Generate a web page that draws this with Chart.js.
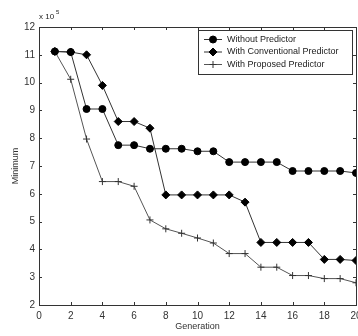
<!DOCTYPE html>
<html><head><meta charset="utf-8">
<script src="https://cdn.jsdelivr.net/npm/chart.js@4"></script>
<style>html,body{margin:0;padding:0;background:#fff;}#wrap{width:358px;height:336px;}</style>
</head><body><div id="wrap"><canvas id="c" width="358" height="336"></canvas></div>
<script>
const generations = [1,2,3,4,5,6,7,8,9,10,11,12,13,14,15,16,17,18,19,20];
const withoutPredictor = [11.12,11.1,9.05,9.05,7.75,7.75,7.62,7.62,7.62,7.53,7.53,7.14,7.14,7.14,7.14,6.82,6.82,6.82,6.82,6.75];
const withConventional = [11.12,11.1,11.0,9.9,8.6,8.6,8.36,5.96,5.96,5.96,5.96,5.96,5.7,4.25,4.25,4.25,4.25,3.64,3.64,3.6];
const withProposed = [11.12,10.12,7.97,6.44,6.44,6.27,5.06,4.74,4.58,4.41,4.23,3.85,3.85,3.36,3.36,3.06,3.06,2.95,2.95,2.8];
const seriesNames = ['Without Predictor','With Conventional Predictor','With Proposed Predictor'];
const xTicks = [0,2,4,6,8,10,12,14,16,18,20];
const yTicks = [2,3,4,5,6,7,8,9,10,11,12];

const FONT = 'Arial, "Liberation Sans", sans-serif';
const toPts = arr => arr.map((v,i)=>({x:generations[i], y:v}));

const framePlugin = {
  id:'frame',
  afterDraw(chart){
    const ctx = chart.ctx, a = chart.chartArea;
    const xs = chart.scales.x, ys = chart.scales.y;
    ctx.save();
    ctx.strokeStyle = '#333'; ctx.lineWidth = 1;
    ctx.strokeRect(Math.round(a.left)+0.5, Math.round(a.top)+0.5, Math.round(a.right-a.left), Math.round(a.bottom-a.top));
    ctx.beginPath();
    xTicks.forEach(t=>{ const p = Math.round(xs.getPixelForValue(t))+0.5;
      ctx.moveTo(p,a.bottom); ctx.lineTo(p,a.bottom-3); ctx.moveTo(p,a.top); ctx.lineTo(p,a.top+3); });
    yTicks.forEach(t=>{ const p = Math.round(ys.getPixelForValue(t))+0.5;
      ctx.moveTo(a.left,p); ctx.lineTo(a.left+3,p); ctx.moveTo(a.right,p); ctx.lineTo(a.right-3,p); });
    ctx.stroke();
    // exponent label
    ctx.fillStyle = '#222';
    ctx.font = '8px ' + FONT; ctx.textBaseline = 'alphabetic'; ctx.textAlign='left';
    ctx.fillText('x 10', a.left, a.top - 8);
    ctx.font = '6px ' + FONT;
    ctx.fillText('5', a.left + 17, a.top - 13);
    // legend
    const lx = a.right - 158, ly = a.top + 3, lw = 154, lh = 44;
    ctx.fillStyle = '#fff'; ctx.fillRect(lx, ly, lw, lh);
    ctx.strokeStyle = '#333'; ctx.strokeRect(lx+0.5, ly+0.5, lw, lh);
    chart.data.datasets.forEach((ds, i) => {
      const y = ly + 9.5 + i*12.5;
      ctx.strokeStyle = ds.borderColor; ctx.lineWidth = 1;
      ctx.beginPath(); ctx.moveTo(lx+6, y); ctx.lineTo(lx+24, y); ctx.stroke();
      ctx.fillStyle = ds.pointBackgroundColor; ctx.strokeStyle = ds.pointBorderColor;
      Chart.helpers.drawPoint(ctx, {pointStyle: ds.pointStyle, radius: ds.pointRadius, borderWidth: 1, rotation:0}, lx+15, y);
      ctx.fillStyle = '#222'; ctx.font = '9px ' + FONT; ctx.textBaseline='middle'; ctx.textAlign='left';
      ctx.fillText(ds.label, lx+29, y);
    });
    ctx.restore();
  }
};

const common = {borderWidth:1, fill:false, tension:0};
new Chart(document.getElementById('c'), {
  type:'line',
  data:{ datasets:[
    Object.assign({label:seriesNames[0], data:toPts(withoutPredictor), borderColor:'#333', backgroundColor:'#000', pointStyle:'circle', pointRadius:3.5, pointBorderColor:'#000', pointBackgroundColor:'#000'}, common),
    Object.assign({label:seriesNames[1], data:toPts(withConventional), borderColor:'#333', backgroundColor:'#000', pointStyle:'rectRot', pointRadius:4, pointBorderColor:'#000', pointBackgroundColor:'#000'}, common),
    Object.assign({label:seriesNames[2], data:toPts(withProposed), borderColor:'#555', backgroundColor:'#333', pointStyle:'cross', pointRadius:3.5, pointBorderColor:'#333', pointBackgroundColor:'#333'}, common)
  ]},
  options:{
    responsive:false, animation:false, devicePixelRatio:1,
    layout:{autoPadding:false, padding:{top:27, right:2, left:0, bottom:0}},
    plugins:{legend:{display:false}, tooltip:{enabled:false}},
    scales:{
      x:{type:'linear', min:0, max:20,
        afterBuildTicks: s => { s.ticks = xTicks.map(v=>({value:v})); },
        afterFit: s => { s.height = 31; s.paddingRight = 0; s.paddingLeft = 0; },
        grid:{display:false, drawTicks:false}, border:{display:false},
        ticks:{color:'#333', font:{family:FONT, size:10}, padding:5, maxRotation:0, autoSkip:false},
        title:{display:true, text:'Generation', color:'#333', font:{family:FONT, size:9}, padding:{top:0,bottom:4}}
      },
      y:{type:'linear', min:2, max:12,
        afterBuildTicks: s => { s.ticks = yTicks.map(v=>({value:v})); },
        afterFit: s => { s.width = 39; s.paddingTop = 0; s.paddingBottom = 0; },
        grid:{display:false, drawTicks:false}, border:{display:false},
        ticks:{color:'#333', font:{family:FONT, size:10}, padding:4, autoSkip:false},
        title:{display:true, text:'Minimum', color:'#333', font:{family:FONT, size:9}, padding:{top:10,bottom:0}}
      }
    }
  },
  plugins:[framePlugin]
});
</script></body></html>
